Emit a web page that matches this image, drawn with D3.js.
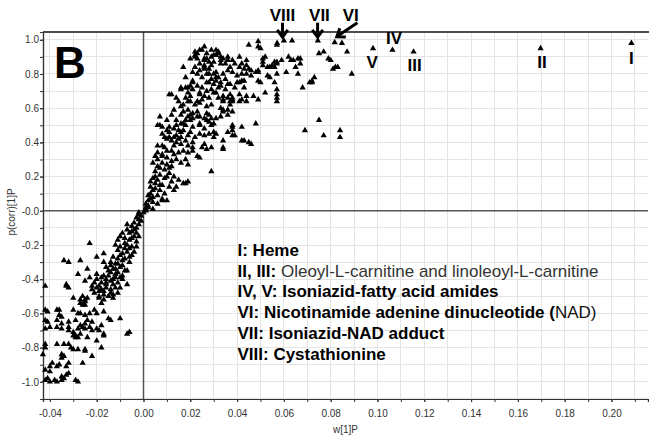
<!DOCTYPE html>
<html><head><meta charset="utf-8">
<script src="https://cdn.jsdelivr.net/npm/d3@7"></script>
<style>
body{margin:0;background:#fff}
text{font-family:"Liberation Sans",Arial,sans-serif}
</style>
</head><body>
<svg id="chart" width="649" height="437"></svg>
<script>
// ---------- DATA ----------
const xTickValues = [-0.04,-0.02,0.00,0.02,0.04,0.06,0.08,0.10,0.12,0.14,0.16,0.18,0.20];
const xTickLabels = ["-0.04","-0.02","0.00","0.02","0.04","0.06","0.08","0.10","0.12","0.14","0.16","0.18","0.20"];
const yTickValues = [-1.0,-0.8,-0.6,-0.4,-0.2,0.0,0.2,0.4,0.6,0.8,1.0];
const yTickLabels = ["-1.0","-0.8","-0.6","-0.4","-0.2","-0.0","0.2","0.4","0.6","0.8","1.0"];
const xLabel = "w[1]P";
const yLabel = "p(corr)[1]P";
const panelLetter = "B";

// upper part of the S-plot, p(corr) >= 0.6  [w, p(corr)]
const upperCloud = [
[0.045,0.97],[0.049,0.99],[0.050,0.95],[0.049,0.96],[0.057,0.97],[0.087,0.93],[0.075,0.92],[0.077,0.93],
[0.079,0.89],[0.080,0.88],[0.082,0.84],[0.081,0.83],[0.089,0.80],[0.073,0.78],[0.072,0.75],[0.071,0.75],
[0.068,0.72],[0.062,0.90],[0.063,0.88],[0.066,0.89],[0.067,0.86],[0.065,0.84],[0.067,0.89],[0.061,0.81],
[0.066,0.80],[0.057,0.71],[0.057,0.66],[0.057,0.64],[0.057,0.68],[0.052,0.69],[0.059,0.88],[0.057,0.87],
[0.055,0.85],[0.054,0.84],[0.053,0.84],[0.057,0.80],[0.054,0.78],[0.051,0.87],[0.051,0.89],[0.049,0.81],
[0.048,0.81],[0.046,0.82],[0.044,0.85],[0.042,0.86],[0.041,0.90],[0.044,0.88],[0.042,0.76],[0.040,0.75],
[0.043,0.72],[0.047,0.67],[0.044,0.67],[0.049,0.65],[0.052,0.90],[0.051,0.85],[0.056,0.84],[0.057,0.86],
[0.056,0.87],[0.064,0.88],[0.045,0.83],[0.049,0.82],[0.046,0.79],[0.044,0.80],[0.049,0.76],[0.050,0.75],
[0.053,0.79],[0.056,0.75],[0.044,0.64],[0.038,0.88],[0.032,0.93],[0.031,0.94],[0.031,0.91],[0.029,0.90],
[0.027,0.89],[0.026,0.88],[0.025,0.94],[0.026,0.84],[0.028,0.83],[0.030,0.87],[0.033,0.88],[0.034,0.89],
[0.036,0.88],[0.041,0.84],[0.043,0.83],[0.031,0.76],[0.027,0.75],[0.029,0.71],[0.033,0.73],[0.034,0.67],
[0.036,0.66],[0.038,0.66],[0.038,0.64],[0.037,0.62],[0.030,0.69],[0.026,0.96],[0.024,0.94],[0.022,0.91],
[0.032,0.92],[0.036,0.90],[0.033,0.86],[0.028,0.87],[0.026,0.85],[0.026,0.83],[0.029,0.85],[0.017,0.84],
[0.021,0.81],[0.023,0.80],[0.031,0.81],[0.034,0.80],[0.038,0.81],[0.042,0.80],[0.021,0.76],[0.028,0.75],
[0.033,0.75],[0.036,0.74],[0.037,0.74],[0.041,0.75],[0.043,0.76],[0.016,0.72],[0.018,0.72],[0.021,0.71],
[0.023,0.73],[0.025,0.72],[0.027,0.70],[0.011,0.68],[0.014,0.66],[0.019,0.69],[0.020,0.67],[0.019,0.64],
[0.024,0.68],[0.025,0.65],[0.023,0.64],[0.031,0.69],[0.032,0.66],[0.034,0.65],[0.038,0.65],[0.037,0.64],
[0.041,0.68],[0.042,0.65],[0.027,0.61],[0.029,0.62],[0.033,0.60],[0.022,0.93],[0.022,0.90],[0.023,0.89],
[0.026,0.89],[0.024,0.86],[0.021,0.75],[0.019,0.72],[0.016,0.71],[0.024,0.69],[0.030,0.74],[0.030,0.80],
[0.031,0.78],[0.012,0.68],[0.018,0.66],[0.016,0.61],[0.072,0.76],[0.083,0.84],[0.041,0.64],[0.037,0.68],
[0.034,0.64],[0.026,0.67],[0.028,0.66],[0.025,0.78],[0.027,0.80],[0.029,0.77],[0.024,0.82],[0.022,0.84],
[0.030,0.91],[0.033,0.90],[0.035,0.86],[0.037,0.84],[0.039,0.86],[0.036,0.82],[0.040,0.79],[0.039,0.72],
[0.035,0.71],[0.032,0.72],[0.022,0.62],[0.020,0.64],[0.024,0.63],[0.020,0.89],[0.023,0.92],[0.027,0.92],
[0.029,0.94],[0.028,0.80],[0.032,0.78],[0.035,0.77],[0.018,0.78],[0.020,0.73],[0.015,0.64],[0.017,0.62]
];

// middle part, 0 <= p(corr) < 0.6
const middleCloud = [
[0.075,0.53],[0.069,0.47],[0.077,0.44],[0.084,0.47],[0.084,0.43],[0.048,0.51],[0.042,0.49],[0.038,0.47],
[0.039,0.44],[0.043,0.41],[0.046,0.39],[0.036,0.56],[0.034,0.59],[0.033,0.55],[0.031,0.54],[0.029,0.54],
[0.027,0.57],[0.029,0.50],[0.030,0.43],[0.028,0.45],[0.029,0.37],[0.026,0.39],[0.034,0.41],[0.031,0.45],
[0.038,0.49],[0.036,0.59],[0.013,0.59],[0.017,0.58],[0.019,0.59],[0.021,0.57],[0.023,0.55],[0.026,0.54],
[0.028,0.56],[0.034,0.58],[0.007,0.50],[0.011,0.49],[0.014,0.50],[0.017,0.51],[0.020,0.53],[0.024,0.51],
[0.038,0.50],[0.008,0.49],[0.008,0.45],[0.010,0.47],[0.013,0.43],[0.016,0.46],[0.007,0.55],[0.006,0.50],
[0.018,0.53],[0.020,0.56],[0.024,0.55],[0.027,0.53],[0.030,0.51],[0.045,0.40],[0.042,0.41],[0.038,0.44],
[0.036,0.46],[0.034,0.37],[0.029,0.23],[0.018,0.16],[0.014,0.14],[0.038,0.58],[0.011,0.46],[0.013,0.48],
[0.016,0.51],[0.018,0.50],[0.021,0.49],[0.024,0.50],[0.026,0.48],[0.028,0.52],[0.011,0.43],[0.014,0.44],
[0.016,0.43],[0.024,0.45],[0.026,0.44],[0.030,0.46],[0.008,0.38],[0.010,0.42],[0.009,0.37],[0.014,0.40],
[0.016,0.39],[0.019,0.38],[0.021,0.40],[0.021,0.37],[0.025,0.37],[0.027,0.36],[0.034,0.36],[0.006,0.34],
[0.008,0.33],[0.010,0.35],[0.012,0.35],[0.013,0.33],[0.015,0.34],[0.017,0.35],[0.019,0.34],[0.021,0.35],
[0.023,0.32],[0.024,0.31],[0.004,0.28],[0.006,0.26],[0.008,0.28],[0.010,0.27],[0.012,0.29],[0.014,0.30],
[0.016,0.28],[0.018,0.30],[0.019,0.27],[0.004,0.19],[0.005,0.20],[0.007,0.21],[0.009,0.19],[0.011,0.22],
[0.013,0.20],[0.015,0.18],[0.017,0.16],[0.019,0.17],[0.003,0.14],[0.005,0.13],[0.007,0.12],[0.008,0.15],
[0.011,0.14],[0.013,0.12],[0.002,0.09],[0.004,0.08],[0.006,0.09],[0.008,0.07],[0.010,0.06],[0.001,0.04],
[0.002,0.03],[0.004,0.05],[0.006,0.04],[0.001,0.01],[0.008,0.06],[0.001,0.00],[0.001,0.02],[0.002,0.06],
[0.003,0.10],[0.004,0.12],[0.005,0.16],[0.006,0.18],[0.007,0.15],[0.003,0.17],[0.005,0.23],[0.007,0.25],
[0.009,0.24],[0.006,0.30],[0.008,0.32],[0.010,0.31],[0.011,0.25],[0.012,0.26],[0.010,0.20],[0.012,0.17],
[0.009,0.10],[0.004,0.01],[0.002,0.02],[0.003,0.07],[0.013,0.38],[0.012,0.41],[0.015,0.42],[0.018,0.41],
[0.019,0.44],[0.022,0.43],[0.020,0.46],[0.017,0.47],[0.015,0.47],[0.014,0.53],[0.016,0.56],[0.019,0.55],
[0.021,0.54],[0.023,0.58],[0.012,0.56],[0.010,0.53],[0.009,0.43],[0.006,0.38],[0.005,0.32]
];

// lower part, p(corr) < 0
const lowerCloud = [
[-0.002,-0.01],[0.000,-0.01],[-0.007,-0.08],[-0.005,-0.09],[-0.007,-0.11],[-0.009,-0.13],[-0.005,-0.12],
[-0.004,-0.11],[-0.002,-0.08],[-0.002,-0.05],[-0.001,-0.03],[-0.003,-0.13],[-0.002,-0.15],[-0.005,-0.16],
[-0.006,-0.17],[-0.008,-0.16],[-0.010,-0.15],[-0.011,-0.17],[-0.012,-0.20],[-0.010,-0.21],[-0.007,-0.20],
[-0.006,-0.22],[-0.005,-0.21],[-0.007,-0.24],[-0.009,-0.25],[-0.010,-0.26],[-0.011,-0.28],[-0.013,-0.27],
[-0.014,-0.30],[-0.012,-0.31],[-0.014,-0.32],[-0.015,-0.35],[-0.014,-0.36],[-0.012,-0.34],[-0.010,-0.33],
[-0.007,-0.35],[-0.009,-0.38],[-0.010,-0.39],[-0.012,-0.39],[-0.013,-0.40],[-0.014,-0.41],[-0.016,-0.40],
[-0.017,-0.38],[-0.018,-0.39],[-0.020,-0.37],[-0.020,-0.40],[-0.021,-0.42],[-0.022,-0.44],[-0.020,-0.45],
[-0.018,-0.46],[-0.016,-0.45],[-0.014,-0.46],[-0.012,-0.45],[-0.011,-0.42],[-0.009,-0.40],[-0.007,-0.43],
[-0.010,-0.45],[-0.013,-0.49],[-0.015,-0.50],[-0.017,-0.49],[-0.019,-0.50],[-0.014,-0.48],[-0.025,-0.41],
[-0.023,-0.39],[-0.022,-0.46],[-0.023,-0.19],[-0.017,-0.25],[-0.020,-0.27],[-0.034,-0.29],[-0.032,-0.30],
[-0.027,-0.29],[-0.017,-0.30],[-0.042,-0.44],[-0.033,-0.44],[-0.032,-0.45],[-0.033,-0.43],[-0.024,-0.34],
[-0.028,-0.37],[-0.030,-0.51],[-0.026,-0.50],[-0.025,-0.52],[-0.027,-0.52],[-0.025,-0.53],[-0.025,-0.55],
[-0.026,-0.55],[-0.027,-0.54],[-0.024,-0.51],[-0.019,-0.51],[-0.017,-0.52],[-0.013,-0.51],[-0.018,-0.54],
[-0.042,-0.58],[-0.041,-0.59],[-0.037,-0.58],[-0.035,-0.62],[-0.030,-0.58],[-0.028,-0.60],[-0.027,-0.60],
[-0.025,-0.61],[-0.023,-0.60],[-0.021,-0.58],[-0.020,-0.60],[-0.017,-0.59],[-0.015,-0.63],[-0.014,-0.64],
[-0.010,-0.63],[-0.042,-0.64],[-0.041,-0.65],[-0.040,-0.68],[-0.042,-0.69],[-0.037,-0.64],[-0.035,-0.66],
[-0.037,-0.68],[-0.035,-0.69],[-0.032,-0.65],[-0.032,-0.68],[-0.032,-0.70],[-0.029,-0.64],[-0.027,-0.67],
[-0.028,-0.69],[-0.030,-0.71],[-0.025,-0.66],[-0.023,-0.68],[-0.025,-0.69],[-0.022,-0.70],[-0.020,-0.69],
[-0.022,-0.65],[-0.018,-0.67],[-0.030,-0.73],[-0.027,-0.72],[-0.029,-0.74],[-0.024,-0.74],[-0.020,-0.76],
[-0.017,-0.72],[-0.017,-0.73],[-0.007,-0.72],[-0.006,-0.71],[-0.042,-0.78],[-0.042,-0.80],[-0.037,-0.78],
[-0.034,-0.78],[-0.032,-0.78],[-0.031,-0.80],[-0.030,-0.81],[-0.028,-0.81],[-0.025,-0.82],[-0.022,-0.85],
[-0.018,-0.80],[-0.035,-0.84],[-0.035,-0.86],[-0.034,-0.85],[-0.043,-0.84],[-0.026,-0.89],[-0.039,-0.89],
[-0.040,-0.91],[-0.037,-0.91],[-0.036,-0.90],[-0.032,-0.89],[-0.033,-0.91],[-0.040,-0.94],[-0.042,-0.93],
[-0.035,-0.97],[-0.035,-0.99],[-0.034,-0.98],[-0.037,-1.00],[-0.038,-0.99],[-0.041,-0.98],[-0.042,-0.99],
[-0.040,-1.00],[-0.029,-0.99],[-0.028,-1.00],[-0.033,-0.96],[-0.036,-0.58],[-0.036,-0.61],[-0.024,-0.64],
[-0.026,-0.68],[-0.019,-0.70],[-0.029,-0.73],[-0.028,-0.74],[-0.025,-0.81],[-0.032,-0.95],[-0.002,-0.02],
[-0.003,-0.04],[-0.001,-0.06],[-0.004,-0.07],[-0.003,-0.10],[-0.006,-0.13],[-0.004,-0.15],[-0.008,-0.19],
[-0.003,-0.18],[-0.008,-0.22],[-0.011,-0.23],[-0.009,-0.29],[-0.006,-0.27],[-0.013,-0.34],[-0.016,-0.33],
[-0.018,-0.42],[-0.016,-0.43],[-0.019,-0.47],[-0.021,-0.48],[-0.008,-0.28],[-0.006,-0.30],[-0.009,-0.32],
[-0.011,-0.31],[-0.004,-0.24],[-0.003,-0.21],[-0.005,-0.26],[-0.008,-0.35],[-0.011,-0.36],[-0.012,-0.37],
[-0.015,-0.38],[-0.016,-0.42],[-0.013,-0.43],[-0.011,-0.48],[-0.017,-0.47],[-0.019,-0.44]
];

// annotated compounds
const compoundNames = ["I","II","III","IV","V","VI","VI","VII","VIII","VIII","VIII"];
const compoundW     = [0.2085,0.1697,0.1154,0.1064,0.0981,0.0817,0.0848,0.0745,0.0600,0.0635,0.0571];
const compoundP     = [0.98,0.95,0.93,0.94,0.95,0.985,0.98,0.995,0.995,0.995,0.98];

// text labels next to points (I..V) and arrow labels (VI..VIII)
const pointLabels = [
  {t:"I",   w:0.2085, p:0.98, dx:0,   dy:21},
  {t:"II",  w:0.1697, p:0.95, dx:1.5, dy:20},
  {t:"III", w:0.1154, p:0.93, dx:1,   dy:19.5},
  {t:"IV",  w:0.1064, p:0.94, dx:1.5, dy:-6},
  {t:"V",   w:0.0981, p:0.95, dx:-1,  dy:19.5}
];
const arrowLabels = [
  {t:"VIII", w0:0.0594, p0:1.10, w1:0.0594, p1:1.015},
  {t:"VII",  w0:0.0744, p0:1.10, w1:0.0744, p1:1.015},
  {t:"VI",   w0:0.0914, p0:1.10, w1:0.0826, p1:1.018}
];
const arrowTextW = [0.0594, 0.0752, 0.0886];

const legendLines = [
  [{t:"I: Heme", b:true}],
  [{t:"II, III: ", b:true}, {t:"Oleoyl-L-carnitine and linoleoyl-L-carnitine", b:false, c:"#333"}],
  [{t:"IV, V: Isoniazid-fatty acid amides", b:true}],
  [{t:"VI: Nicotinamide adenine dinucleotide ", b:true}, {t:"(", b:true}, {t:"NAD)", b:false, c:"#111"}],
  [{t:"VII: Isoniazid-NAD adduct", b:true}],
  [{t:"VIII: Cystathionine", b:true}]
];

// ---------- CHART ----------
const W = 649, H = 437;
const L = 43, R = 648, T = 32, B = 399;
const svg = d3.select("#chart");
svg.append("rect").attr("width",W).attr("height",H).attr("fill","#fff");

const x = d3.scaleLinear().domain([-0.04295, 0.2156]).range([L, R]);
const y = d3.scaleLinear().domain([-1.1005, 1.0455]).range([B, T]);

// grid
const gx = d3.range(-4, 22).map(i => i/100);
const gy = d3.range(-11, 11).map(i => i/10);
const grid = svg.append("g").attr("stroke","#e4e4e4").attr("stroke-width",1).attr("shape-rendering","crispEdges");
grid.selectAll("line.vx").data(gx).join("line")
  .attr("x1",d=>x(d)).attr("x2",d=>x(d)).attr("y1",T).attr("y2",B);
grid.selectAll("line.hy").data(gy.filter(v=>y(v)>T && y(v)<B)).join("line")
  .attr("x1",L).attr("x2",R).attr("y1",d=>y(d)).attr("y2",d=>y(d));

// zero lines
svg.append("line").attr("x1",x(0)).attr("x2",x(0)).attr("y1",T).attr("y2",B)
  .attr("stroke","#555").attr("stroke-width",1.5);
svg.append("line").attr("x1",L).attr("x2",R).attr("y1",y(0)).attr("y2",y(0))
  .attr("stroke","#555").attr("stroke-width",1.5);

// frame
svg.append("line").attr("x1",L).attr("x2",R+1).attr("y1",T).attr("y2",T).attr("stroke","#111").attr("stroke-width",1.5);

// axes
const xMinor = d3.axisBottom(x).tickValues(gx).tickSize(3).tickFormat("");
const xAxis = d3.axisBottom(x).tickValues(xTickValues).tickSize(3).tickPadding(8)
  .tickFormat((d,i)=>xTickLabels[i]);
svg.append("g").attr("transform",`translate(0,${B})`).call(xAxis);
svg.append("g").attr("transform",`translate(0,${B})`).call(xMinor);
const yMinor = d3.axisLeft(y).tickValues(gy.filter(v=>v>=-1.05)).tickSize(3).tickFormat("");
const yAxis = d3.axisLeft(y).tickValues(yTickValues).tickSize(3).tickPadding(1)
  .tickFormat((d,i)=>yTickLabels[i]);
svg.append("g").attr("transform",`translate(${L},0)`).call(yAxis);
svg.append("g").attr("transform",`translate(${L},0)`).call(yMinor);
svg.selectAll(".domain").attr("stroke","#333").attr("stroke-width",1.2);
svg.selectAll(".tick line").attr("stroke","#333");
svg.selectAll(".tick text").attr("font-size",10).attr("fill","#333")
  .attr("font-family",'"Liberation Sans",Arial,sans-serif');

// axis titles
svg.append("text").attr("x",(L+R)/2).attr("y",433).attr("text-anchor","middle")
  .attr("font-size",10).attr("fill","#333").text(xLabel);
svg.append("text").attr("transform","translate(15,212) rotate(-90)").attr("text-anchor","middle")
  .attr("font-size",10).attr("fill","#333").text(yLabel);

// points
const tri = d3.symbol(d3.symbolTriangle, 17);
const allPts = upperCloud.concat(middleCloud, lowerCloud);
svg.append("g").selectAll("path").data(allPts).join("path")
  .attr("d", tri).attr("fill","#000")
  .attr("transform", d=>`translate(${x(d[0])},${y(d[1])})`);
svg.append("g").selectAll("path").data(compoundW.map((w,i)=>[w,compoundP[i]])).join("path")
  .attr("d", tri).attr("fill","#000")
  .attr("transform", d=>`translate(${x(d[0])},${y(d[1])})`);

// panel letter
svg.append("text").attr("x",54).attr("y",78).attr("font-size",44).attr("font-weight","bold")
  .attr("fill","#000").text(panelLetter);

// point labels
svg.append("g").selectAll("text").data(pointLabels).join("text")
  .attr("x",d=>x(d.w)+d.dx).attr("y",d=>y(d.p)+d.dy).attr("text-anchor","middle")
  .attr("font-size",17).attr("font-weight","bold").attr("fill","#000").text(d=>d.t);

// arrows
const ag = svg.append("g").attr("stroke","#000").attr("stroke-width",3).attr("fill","none")
  .attr("stroke-linecap","butt").attr("stroke-linejoin","miter");
arrowLabels.forEach((a,i)=>{
  const x0=x(a.w0), y0=y(a.p0), x1=x(a.w1), y1=y(a.p1);
  const ang=Math.atan2(y1-y0,x1-x0), hl=9, ha=Math.PI/5;
  ag.append("line").attr("x1",x0).attr("y1",y0).attr("x2",x1-Math.cos(ang)*1.5).attr("y2",y1-Math.sin(ang)*1.5);
  ag.append("path").attr("d",
    `M${x1-hl*Math.cos(ang-ha)},${y1-hl*Math.sin(ang-ha)}L${x1},${y1}L${x1-hl*Math.cos(ang+ha)},${y1-hl*Math.sin(ang+ha)}`);
  svg.append("text").attr("x",x(arrowTextW[i])).attr("y",21).attr("text-anchor","middle")
    .attr("font-size",17).attr("font-weight","bold").attr("fill","#000").text(a.t);
});

// legend text
const lg = svg.append("g");
legendLines.forEach((parts,i)=>{
  const t = lg.append("text").attr("x",237.5).attr("y",256+i*20.7).attr("font-size",17).attr("fill","#000");
  parts.forEach(p=>{
    t.append("tspan").attr("font-weight",p.b?"bold":"normal").attr("fill",p.c||"#000").text(p.t);
  });
});
</script>
</body></html>
